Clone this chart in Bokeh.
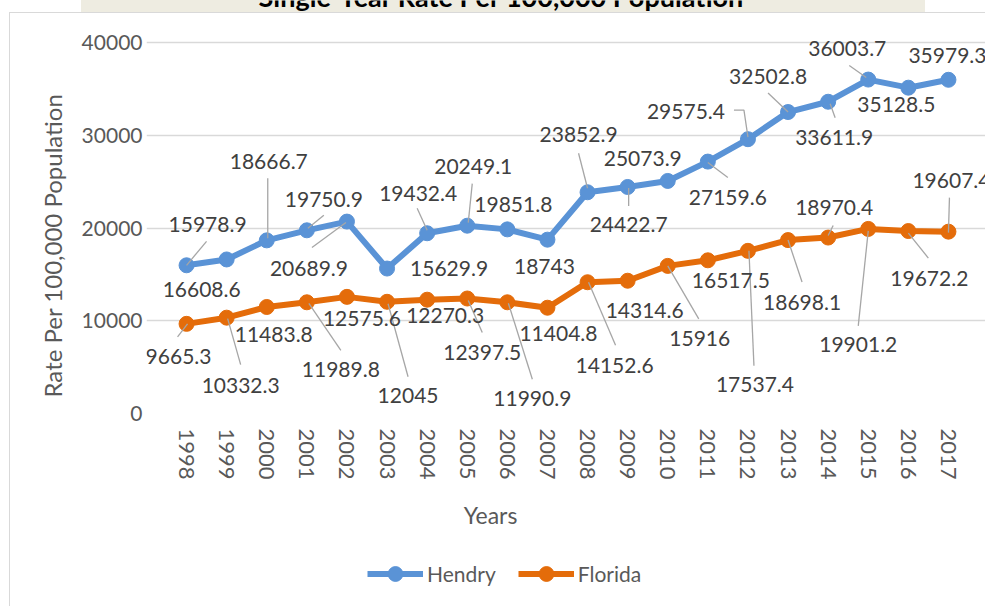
from bokeh.plotting import figure
from bokeh.layouts import column
from bokeh.models import (ColumnDataSource, Label, Legend, LegendItem, FixedTicker, Range1d,
                          Title, InlineStyleSheet)
from bokeh.embed import file_html
from bokeh.resources import INLINE

# ---------------- data ----------------
years = [1998, 1999, 2000, 2001, 2002, 2003, 2004, 2005, 2006, 2007,
         2008, 2009, 2010, 2011, 2012, 2013, 2014, 2015, 2016, 2017]
hendry = [15978.9, 16608.6, 18666.7, 19750.9, 20689.9, 15629.9, 19432.4, 20249.1, 19851.8, 18743,
          23852.9, 24422.7, 25073.9, 27159.6, 29575.4, 32502.8, 33611.9, 36003.7, 35128.5, 35979.3]
florida = [9665.3, 10332.3, 11483.8, 11989.8, 12575.6, 12045, 12270.3, 12397.5, 11990.9, 11404.8,
           14152.6, 14314.6, 15916, 16517.5, 17537.4, 18698.1, 18970.4, 19901.2, 19672.2, 19607.4]
y_ticks = [0, 10000, 20000, 30000, 40000]
title_text = "Single-Year Rate Per 100,000 Population"
x_title = "Years"
y_title = "Rate Per 100,000 Population"
series_names = ["Hendry", "Florida"]

# ---------------- label layout (pixel offsets from each point; +dy = down) ----------------
hendry_lbl = [(21, -41), (-25, 30), (2, -79), (17, -31), (-38, 47), (62, 0), (-9, -40), (6, -59),
              (6, -25), (-3, 27), (-9, -58), (1, 38), (-25, -22), (20, 36), (-62, -28), (-20, -36),
              (6, 36), (-21, -31), (-12, 17), (-1, -24)]
hendry_lead = [[(20, -24), (0, 0)], [], [(1, -62), (1, -2)], [(17, -15), (1, -2)], [(-35, 26), (-1, 1)], [],
               [(-10, -25), (0, -3)], [(5, -42), (1, -3)], [], [], [(-9, -39), (0, -4)], [(1, 1), (1, 19)],
               [], [(0, 1), (20, 16)], [(-14, -29), (-4, -29), (0, -2)], [(-20, -19), (0, 0)],
               [(2, 2), (7, 16)], [(-19, -14), (-2, -2)], [], []]
florida_lbl = [(-8, 33), (14, 68), (7, 28), (34, 67), (15, 22), (21, 94), (18, 16), (15, 54),
               (25, 96), (11, 26), (27, 83), (17, 30), (32, 73), (23, 20), (7, 134), (14, 62),
               (6, -30), (-10, 116), (21, 47), (3, -51)]
florida_lead = [[(-9, 13), (1, 0)], [(1, 1), (14, 47)], [], [(2, 1), (34, 48)], [], [(1, 2), (21, 75)], [],
                [(1, 2), (15, 34)], [(1, 1), (25, 77)], [], [(1, 0), (28, 63)], [], [(0, 0), (31, 53)], [],
                [(1, 0), (6, 115)], [(0, 0), (14, 42)], [(5, -12), (0, -2)], [(0, 2), (-10, 97)],
                [(0, 2), (20, 27)], [(1, -34), (0, 1)]]

# ---------------- style ----------------
BLUE = "#5A93D6"
ORANGE = "#E46C0A"
GRID = "#D9D9D9"
TXT = "#595959"
LBL = "#404040"
FONT = "Lato"

W, H = 985, 606
H_TOP = 490                      # height of the chart part; the rest holds "Years" and the legend
PA_L, PA_R, PA_T, PA_B = 166, 968, 42, 413   # plot area in pixels
BL, BR, BT, BB = 146, 0, 0, H_TOP - PA_B       # drawing frame is larger so labels are not cut
px_x = (PA_R - PA_L) / len(years)
px_y = (PA_B - PA_T) / (y_ticks[-1] - y_ticks[0])
gx0, gx1 = years[0] - 0.5, years[-1] + 0.5
x0 = gx0 - (PA_L - BL) / px_x
x1 = gx1 + (W - BR - PA_R) / px_x
y0 = y_ticks[0]
y1 = y_ticks[-1] + (PA_T - BT) / px_y

p = figure(width=W, height=H_TOP, output_backend="svg", toolbar_location=None,
           x_range=Range1d(x0, x1), y_range=Range1d(y0, y1),
           min_border_left=BL, min_border_right=BR, min_border_top=BT, min_border_bottom=BB,
           outline_line_color=None, background_fill_color=None, border_fill_color=None)

# axes
p.yaxis.ticker = FixedTicker(ticks=y_ticks)
p.yaxis.axis_line_color = None
p.yaxis.major_tick_line_color = None
p.yaxis.major_tick_out = 0
p.yaxis.minor_tick_line_color = None
p.yaxis.major_label_standoff = 4
p.yaxis.major_label_text_font = FONT
p.yaxis.major_label_text_font_size = "21px"
p.yaxis.major_label_text_color = TXT

p.xaxis.ticker = FixedTicker(ticks=years)
p.xaxis.axis_line_color = None
p.xaxis.major_tick_line_color = None
p.xaxis.major_tick_out = 0
p.xaxis.minor_tick_line_color = None
p.xaxis.major_label_orientation = "vertical"
p.xaxis.major_label_standoff = 15
p.xaxis.major_label_text_font = FONT
p.xaxis.major_label_text_font_size = "22px"
p.xaxis.major_label_text_color = TXT

p.xgrid.grid_line_color = None
p.ygrid.ticker = FixedTicker(ticks=y_ticks)
p.ygrid.bounds = (gx0, gx1)
p.ygrid.grid_line_color = GRID
p.ygrid.grid_line_width = 1.5

# y axis title
p.add_layout(Title(text=y_title, align="left", offset=16, standoff=23, vertical_align="bottom",
                   text_font=FONT, text_font_size="24px", text_font_style="normal",
                   text_color=TXT), "left")

# chart title (its top is cut by the picture edge, as in the original)
p.add_layout(Label(x=501 - BL, y=(H_TOP - BB) + 4, x_units="screen", y_units="screen", text=title_text,
                   text_align="center", text_baseline="alphabetic", text_font=FONT,
                   text_font_size="27px", text_font_style="bold", text_color="black"))

def fmt(v):
    return ("%.1f" % v).rstrip("0").rstrip(".")

# ---------------- lower strip: x title and legend (its frame is aligned with the chart's) ----------------
H_BOT = H - H_TOP
q = figure(width=W, height=H_BOT, output_backend="svg", toolbar_location=None,
           x_range=Range1d(0, 1), y_range=Range1d(0, 1), min_border=0,
           x_axis_location=None, y_axis_location=None,
           outline_line_color=None, background_fill_color=None, border_fill_color=None)
q.grid.visible = False
q.add_layout(Label(x=490 - BL, y=H - 514, x_units="screen", y_units="screen", text=x_title,
                   text_align="center", text_baseline="middle", text_font=FONT,
                   text_font_size="23px", text_color=TXT))

legend_items = []
for name, vals, color, lbl, lead in [(series_names[0], hendry, BLUE, hendry_lbl, hendry_lead),
                                     (series_names[1], florida, ORANGE, florida_lbl, florida_lead)]:
    src = ColumnDataSource(dict(x=years, y=vals))
    p.line("x", "y", source=src, line_color=color, line_width=6, line_join="round")
    p.scatter("x", "y", source=src, size=15, fill_color=color, line_color=color)
    # same series in the legend strip (outside its visible range) to feed the legend
    lr = q.line("x", "y", source=src, line_color=color, line_width=6)
    sr = q.scatter("x", "y", source=src, size=15, fill_color=color, line_color=color)
    legend_items.append(LegendItem(label=name, renderers=[lr, sr]))

    xs, ys = [], []
    for xv, yv, pts in zip(years, vals, lead):
        if pts:
            xs.append([xv + dx / px_x for dx, dy in pts])
            ys.append([yv - dy / px_y for dx, dy in pts])
    p.multi_line(xs=xs, ys=ys, line_color="#A6A6A6", line_width=1.3)

    for xv, yv, (dx, dy) in zip(years, vals, lbl):
        p.add_layout(Label(x=xv, y=yv, x_offset=dx, y_offset=-dy, text=fmt(yv),
                           text_align="center", text_baseline="middle", text_font=FONT,
                           text_font_size="21px", text_color=LBL))

GH = 37
legend = Legend(items=legend_items, orientation="horizontal",
                location=(367 - BL, (H - 573) - GH / 2),
                glyph_width=56, glyph_height=GH, label_standoff=4, spacing=22,
                padding=0, margin=0, border_line_color=None, background_fill_alpha=0,
                label_text_font=FONT, label_text_font_size="21px", label_text_color=TXT)
q.add_layout(legend, "center")

page = column(p, q, spacing=0)
# chart-area border and title band (page decoration behind the canvases)
page.stylesheets = [InlineStyleSheet(css="""
:host::before { content: ""; position: absolute; left: 81px; top: 0px; width: 844px; height: 12px;
                background: #EEECE1; z-index: -1; pointer-events: none; }
:host::after { content: ""; position: absolute; left: 9px; top: 12px; right: 0px; bottom: 0px;
               border-left: 1.5px solid #D9D9D9; border-top: 1.5px solid #D9D9D9;
               z-index: -1; pointer-events: none; }
""")]

open("out.html", "w").write(file_html(page, INLINE))
